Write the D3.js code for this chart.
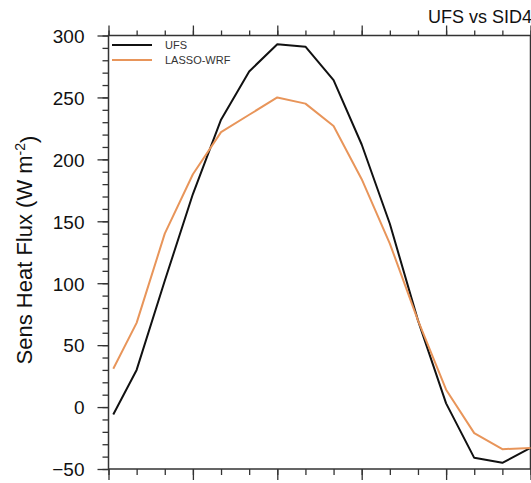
<!DOCTYPE html>
<html>
<head>
<meta charset="utf-8">
<script src="https://cdn.jsdelivr.net/npm/d3@7"></script>
<style>
  body { margin: 0; background: #fff; }
  svg { display: block; font-family: 'Liberation Sans', Arial, Helvetica, sans-serif; }
</style>
</head>
<body>
<svg width="531" height="483"></svg>
<script>
// time steps (hours from start of window)
const hours = [0.17, 1, 2, 3, 4, 5, 6, 7, 8, 9, 10, 11, 12, 13, 14, 15];
const ufs = [-6, 30, 102, 172, 232, 271, 293, 291, 264, 212, 148, 70, 3, -41, -45, -33];
const lassoWrf = [31, 68, 140, 188, 222, 236, 250, 245, 227, 184, 132, 70, 14, -21, -34, -33];
const seriesNames = ['UFS', 'LASSO-WRF'];
const seriesColors = ['#111111', '#e8955a'];
const yMajor = [-50, 0, 50, 100, 150, 200, 250, 300];

const svg = d3.select('svg');
const plotL = 108.5, plotR = 530.5, plotT = 35.5, plotB = 469;

const x = d3.scaleLinear().domain([0, 15]).range([plotL, plotR]);
const y = d3.scaleLinear().domain([-50, 300]).range([plotB, plotT]);

const axisColor = '#333';

function styleAxis(g) {
  g.select('.domain').remove();
  g.selectAll('line').attr('stroke', axisColor).attr('stroke-width', 1.3);
  g.selectAll('text').remove();
}

// x ticks: minor every hour, major every 3 hours, top and bottom
const xAll = d3.range(0, 16);
const xMaj = xAll.filter((d) => d % 3 === 0);
svg.append('g').attr('transform', `translate(0,${plotB})`)
    .call(d3.axisBottom(x).tickValues(xAll).tickSize(6)).call(styleAxis);
svg.append('g').attr('transform', `translate(0,${plotB})`)
    .call(d3.axisBottom(x).tickValues(xMaj).tickSize(11)).call(styleAxis);
svg.append('g').attr('transform', `translate(0,${plotT})`)
    .call(d3.axisTop(x).tickValues(xAll).tickSize(5)).call(styleAxis);
svg.append('g').attr('transform', `translate(0,${plotT})`)
    .call(d3.axisTop(x).tickValues(xMaj).tickSize(10)).call(styleAxis);

// y ticks
svg.append('g').attr('transform', `translate(${plotL},0)`)
    .call(d3.axisLeft(y).tickValues(d3.range(-50, 301, 10)).tickSize(6))
    .call(styleAxis);
const yAx = svg.append('g').attr('transform', `translate(${plotL},0)`)
    .call(d3.axisLeft(y).tickValues(yMajor).tickSize(11).tickPadding(13));
yAx.select('.domain').remove();
yAx.selectAll('line').attr('stroke', axisColor).attr('stroke-width', 1.3);
yAx.selectAll('text')
    .attr('fill', '#111')
    .style('font-size', '19px')
    .attr('dy', '0.36em');

// frame
svg.append('rect')
    .attr('x', plotL).attr('y', plotT)
    .attr('width', plotR - plotL).attr('height', plotB - plotT)
    .attr('fill', 'none')
    .attr('stroke', axisColor)
    .attr('stroke-width', 1.5);

// lines
const line = d3.line()
    .x((d, i) => x(hours[i]))
    .y((d) => y(d));

[ufs, lassoWrf].forEach((s, k) => {
  svg.append('path')
      .datum(s)
      .attr('d', line)
      .attr('fill', 'none')
      .attr('stroke', seriesColors[k])
      .attr('stroke-width', 2)
      .attr('stroke-linejoin', 'round');
});

// legend
const leg = svg.append('g');
seriesNames.forEach((name, k) => {
  const ly = 45 + k * 15;
  leg.append('line')
      .attr('x1', 112).attr('x2', 152)
      .attr('y1', ly).attr('y2', ly)
      .attr('stroke', seriesColors[k])
      .attr('stroke-width', 2);
  leg.append('text')
      .attr('x', 165).attr('y', ly + 4)
      .attr('fill', '#333')
      .style('font-size', '11px')
      .text(name);
});

// y label
const yl = svg.append('text')
    .attr('transform', 'translate(32,250) rotate(-90)')
    .attr('text-anchor', 'middle')
    .attr('fill', '#111')
    .style('font-size', '22px');
yl.append('tspan').text('Sens Heat Flux (W m');
yl.append('tspan').attr('dy', '-0.5em').style('font-size', '14px').text('-2');
yl.append('tspan').attr('dy', '0.5em').text(')');

// title
svg.append('text')
    .attr('x', 428).attr('y', 23)
    .attr('fill', '#111')
    .style('font-size', '18px')
    .text('UFS vs SID4');
</script>
</body>
</html>
